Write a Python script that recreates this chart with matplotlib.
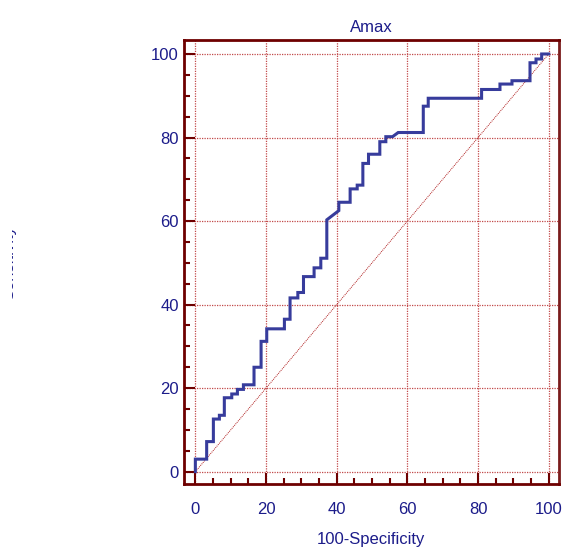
import numpy as np
import matplotlib
matplotlib.use("Agg")
from matplotlib import pyplot as plt
from matplotlib.ticker import MultipleLocator
from matplotlib.transforms import Bbox

plt.rcParams['font.family'] = ['Liberation Sans', 'DejaVu Sans']

# ROC curve vertices for Amax (100-specificity vs sensitivity, in %)
fpr = [0, 0, 3.2, 3.2, 5.1, 5.1, 6.8, 6.8, 8.2, 8.2, 10.3, 10.3, 11.9, 11.9,
       13.6, 13.6, 16.6, 16.6, 18.6, 18.6, 20.2, 20.2, 25.2, 25.2, 26.8, 26.8,
       29.0, 29.0, 30.6, 30.6, 33.6, 33.6, 35.5, 35.5, 37.2, 37.2, 40.6, 40.6,
       43.8, 43.8, 45.8, 45.8, 47.4, 47.4, 49.0, 49.0, 52.2, 52.2, 53.9, 53.9,
       55.8, 57.4, 64.5, 64.5, 65.9, 65.9, 81.0, 81.0, 86.2, 86.2, 89.6, 89.6,
       94.7, 94.7, 96.4, 96.4, 98.0, 98.0, 100]
tpr = [0, 3.0, 3.0, 7.2, 7.2, 12.6, 12.6, 13.5, 13.5, 17.7, 17.7, 18.6, 18.6, 19.7,
       19.7, 20.8, 20.8, 25.0, 25.0, 31.2, 31.2, 34.2, 34.2, 36.5, 36.5, 41.6,
       41.6, 42.9, 42.9, 46.7, 46.7, 48.8, 48.8, 51.1, 51.1, 60.3, 62.5, 64.5,
       64.5, 67.7, 67.7, 68.6, 68.6, 73.8, 73.8, 76.0, 76.0, 79.0, 79.0, 80.2,
       80.2, 81.2, 81.2, 87.5, 87.5, 89.4, 89.4, 91.5, 91.5, 92.8, 92.8, 93.6,
       93.6, 97.9, 97.9, 98.8, 98.8, 100, 100]
ticks = [0, 20, 40, 60, 80, 100]

spine_col = '#6e0000'
text_col = '#1c1c8a'
grid_col = '#c24a4a'

fig = plt.figure(figsize=(5.64, 5.50), dpi=100)
ax = fig.add_axes([0.3257, 0.12, 0.6654, 0.8073])

# reference diagonal and grid
ax.plot([0, 100], [0, 100], color='#b02020', lw=0.7, ls=(0, (1, 1)), zorder=1)
for t in ticks:
    ax.axvline(t, color=grid_col, lw=0.9, ls=(0, (1, 1)), zorder=0)
    ax.axhline(t, color=grid_col, lw=0.9, ls=(0, (1, 1)), zorder=0)

ax.plot(fpr, tpr, color='#373c9c', lw=2.2, solid_joinstyle='miter', zorder=3)

ax.set_xlim(-3.3, 102.9)
ax.set_ylim(-2.95, 103.35)
ax.set_xticks(ticks)
ax.set_yticks(ticks)
ax.xaxis.set_minor_locator(MultipleLocator(5))
ax.yaxis.set_minor_locator(MultipleLocator(5))
ax.tick_params(which='both', direction='in', color=spine_col, width=1.5,
               top=False, right=False, labelcolor=text_col, labelsize=12)
ax.tick_params(which='major', length=8)
ax.tick_params(which='minor', length=4)
ax.tick_params(axis='x', which='major', pad=13)
ax.tick_params(axis='y', which='major', pad=3.5)

for s in ax.spines.values():
    s.set_color(spine_col)
    s.set_linewidth(2.0)
ax.spines['right'].set_color('#7a1c1c')

ax.set_title('Amax', color=text_col, fontsize=12, pad=6)
ax.set_xlabel('100-Specificity', color=text_col, fontsize=12, labelpad=11)

# y label, only its edge shows at the left border
ylab = fig.text(13 / 564, 1 - 262 / 550, 'Sensitivity', rotation=90,
                rotation_mode='anchor', ha='center', va='baseline',
                color=text_col, fontsize=12)
ylab.set_clip_box(Bbox.from_extents(11.5, 0, 20, 550))
ylab.set_clip_on(True)

fig.savefig('out.png', dpi=100)
